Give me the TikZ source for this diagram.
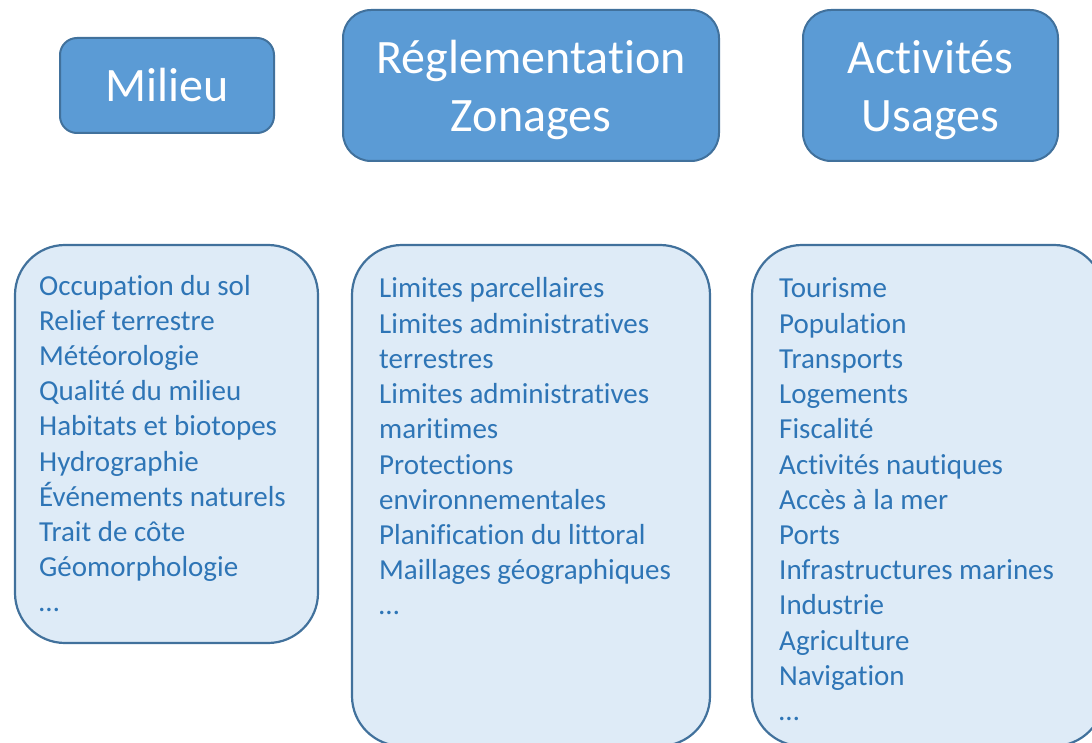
\documentclass[tikz,border=0pt]{standalone}
\usepackage{fontspec}
\setmainfont{Carlito}[RawFeature={-liga;-clig;-calt;-dlig}]
\definecolor{hdrfill}{HTML}{5B9BD5}
\definecolor{hdrline}{HTML}{41719C}
\definecolor{boxfill}{HTML}{DEEBF7}
\definecolor{txtblue}{HTML}{2E75B6}
\begin{document}
\begin{tikzpicture}[x=1pt,y=-1pt,
  hdr/.style={draw=hdrline, fill=hdrfill, line width=2pt, inner sep=0pt,
    text=white, align=center, font=\fontsize{48}{58}\selectfont},
  lst/.style={draw=hdrline, fill=boxfill, line width=2.2pt, inner sep=0pt, rounded corners=50pt},
  item/.style={anchor=base west, inner sep=0pt, text=txtblue, font=\fontsize{29}{35}\selectfont}]
\useasboundingbox (0,0) rectangle (1092,743);
\clip (0,0) rectangle (1092,743);
% headers
\node[hdr, rounded corners=17pt, minimum width=214pt, minimum height=95pt] (milieu) at (167,85.5) {Milieu};
\node[hdr, rounded corners=28pt, minimum width=376pt, minimum height=151pt, text depth=0pt] (regl) at (531,85.5) {Réglementation\\Zonages};
\node[hdr, rounded corners=28pt, minimum width=255pt, minimum height=151pt, text depth=0pt] (activ) at (930.5,85.5) {Activités\\Usages};
% list boxes
\node[lst, minimum width=303pt, minimum height=398pt] (lmil) at (166.5,444) {};
\node[lst, minimum width=358pt, minimum height=501pt] (lreg) at (531,495.5) {};
\node[lst, minimum width=352pt, minimum height=501pt] (lact) at (928,495.5) {};
% items
\foreach \t [count=\i] in {Occupation du sol, Relief terrestre, Météorologie, Qualité du milieu, Habitats et biotopes, Hydrographie, Événements naturels, Trait de côte, Géomorphologie, …}
  \node[item] (m\i) at (39,{295+35.2*(\i-1)}) {\t};
\foreach \t [count=\i] in {Limites parcellaires, Limites administratives, terrestres, Limites administratives, maritimes, Protections, environnementales, Planification du littoral, Maillages géographiques, …}
  \node[item] (r\i) at (379,{298+35.2*(\i-1)}) {\t};
\foreach \t [count=\i] in {Tourisme, Population, Transports, Logements, Fiscalité, Activités nautiques, Accès à la mer, Ports, Infrastructures marines, Industrie, Agriculture, Navigation, …}
  \node[item] (a\i) at (779,{298+35.2*(\i-1)}) {\t};
\end{tikzpicture}
\end{document}
